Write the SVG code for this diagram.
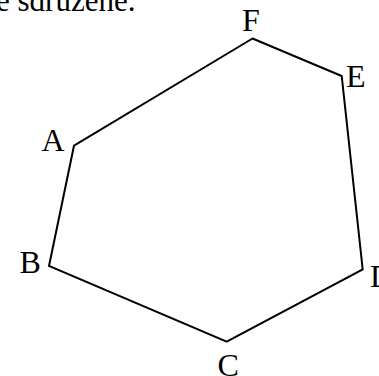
<svg xmlns="http://www.w3.org/2000/svg" width="379" height="376" viewBox="0 0 379 376">
<style>
.lbl{font-family:"Liberation Serif","Times New Roman",serif;font-size:32px;fill:#000}
.top{font-family:"Liberation Serif","Times New Roman",serif;font-size:31px;fill:#000}
.edge{fill:none;stroke:#000;stroke-width:2;stroke-linejoin:miter}
</style>
<rect width="379" height="376" fill="#fff"/>
<text class="top" x="-4" y="11">e sdružené.</text>
<g id="connectors">
<polygon class="edge" points="252.5,38.5 341.7,76 362.7,269.5 226.7,341.7 49,266 74,145.7"/>
</g>
<g id="node-F"><text class="lbl" x="242" y="31">F</text></g>
<g id="node-E"><text class="lbl" x="346" y="87">E</text></g>
<g id="node-A"><text class="lbl" x="41.5" y="151">A</text></g>
<g id="node-B"><text class="lbl" x="19.5" y="273">B</text></g>
<g id="node-C"><text class="lbl" x="217.5" y="376">C</text></g>
<g id="node-D"><text class="lbl" x="370" y="287">D</text></g>
</svg>
